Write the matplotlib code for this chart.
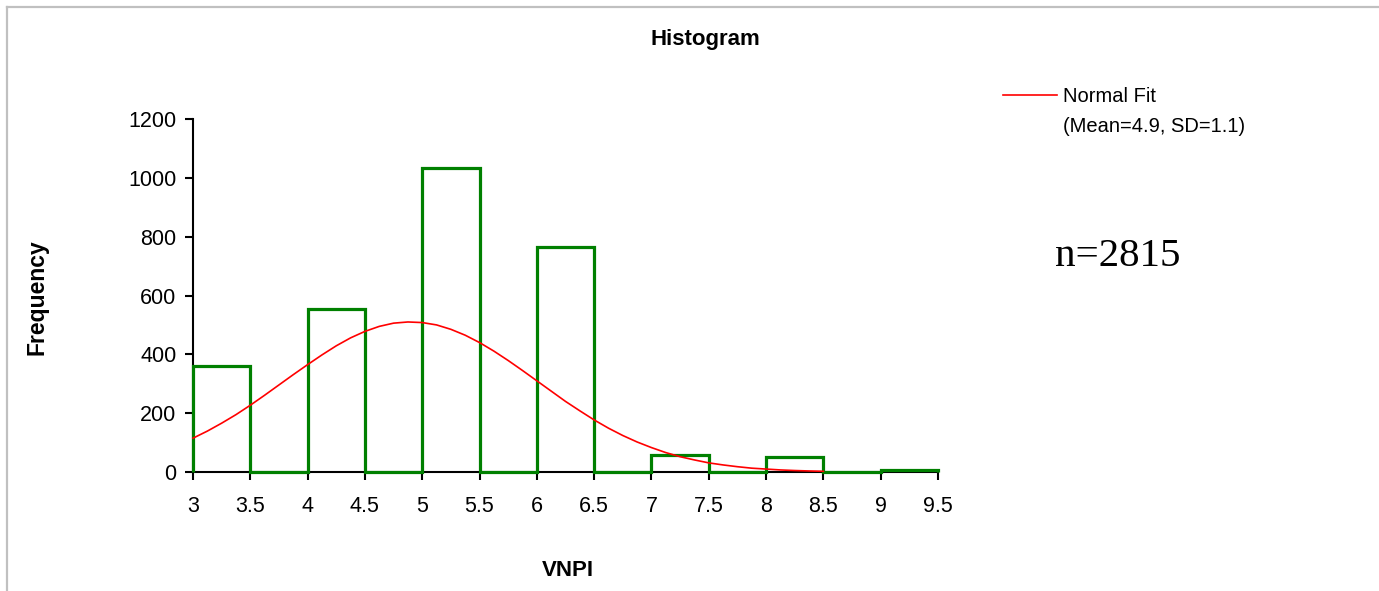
import matplotlib
matplotlib.use("Agg")
import matplotlib.pyplot as plt
from matplotlib.lines import Line2D
import numpy as np

plt.rcParams['font.family'] = ['Liberation Sans', 'DejaVu Sans']

# histogram bins (width 0.5) and counts
bin_edges = [3, 3.5, 4, 4.5, 5, 5.5, 6, 6.5, 7, 7.5, 8, 8.5, 9, 9.5]
counts = [362, 0, 553, 0, 1035, 0, 765, 0, 58, 0, 50, 0, 8]

# normal fit curve (Mean=4.9, SD=1.1)
fit_x = [3, 3.125, 3.25, 3.375, 3.5, 3.625, 3.75, 3.875, 4, 4.125, 4.25, 4.375,
         4.5, 4.625, 4.75, 4.875, 5, 5.125, 5.25, 5.375, 5.5, 5.625, 5.75, 5.875,
         6, 6.125, 6.25, 6.375, 6.5, 6.625, 6.75, 6.875, 7, 7.125, 7.25, 7.375,
         7.5, 7.625, 7.75, 7.875, 8, 8.125, 8.25, 8.375, 8.5]
fit_y = [115, 139, 166, 195, 227, 261, 296, 331, 365, 398, 429, 456,
         478, 495, 506, 510, 508, 500, 485, 465, 440, 411, 379, 345,
         310, 275, 240, 208, 177, 149, 124, 102, 83, 66, 52, 41,
         31, 24, 18, 13, 10, 7, 5, 3.5, 2.4]

x_ticks = [3, 3.5, 4, 4.5, 5, 5.5, 6, 6.5, 7, 7.5, 8, 8.5, 9, 9.5]
x_tick_labels = ['3', '3.5', '4', '4.5', '5', '5.5', '6', '6.5', '7', '7.5', '8', '8.5', '9', '9.5']
y_ticks = [0, 200, 400, 600, 800, 1000, 1200]

W, H = 1379, 591
fig = plt.figure(figsize=(W / 100, H / 100), dpi=100)
ax = fig.add_axes([193 / W, 1 - 472 / H, (938 - 193) / W, (472 - 119) / H])

ax.stairs(counts, bin_edges, color='#008000', linewidth=2.3, baseline=0, clip_on=False, zorder=3)
ax.plot(fit_x, fit_y, color='red', linewidth=1.2, zorder=4, clip_on=False)

ax.set_xlim(3, 9.5)
ax.set_ylim(0, 1200)
ax.set_xticks(x_ticks)
ax.set_xticklabels(x_tick_labels)
ax.set_yticks(y_ticks)

for s in ['top', 'right']:
    ax.spines[s].set_visible(False)
for s in ['left', 'bottom']:
    ax.spines[s].set_linewidth(1.5)
ax.tick_params(axis='both', direction='out', length=6, width=1.5, labelsize=15.5)
ax.tick_params(axis='x', pad=11)
ax.tick_params(axis='y', pad=6)

fig.text(705 / W, 1 - 40 / H, 'Histogram', ha='center', va='center', fontsize=16, fontweight='bold')
fig.text(37 / W, 1 - 297 / H, 'Frequency', ha='center', va='center', rotation=90,
         fontsize=16.5, fontweight='bold')
fig.text(568 / W, 1 - 571 / H, 'VNPI', ha='center', va='center', fontsize=16, fontweight='bold')

# legend
fig.add_artist(Line2D([1003 / W, 1057 / W], [1 - 95 / H, 1 - 95 / H], color='red', linewidth=1.2))
fig.text(1063 / W, 1 - 96 / H, 'Normal Fit', ha='left', va='center', fontsize=14.5)
fig.text(1063 / W, 1 - 126 / H, '(Mean=4.9, SD=1.1)', ha='left', va='center', fontsize=14.5)

fig.text(1055 / W, 1 - 256 / H, 'n=2815', ha='left', va='center', fontsize=29.5,
         family=['Liberation Serif', 'DejaVu Serif'])

# light grey frame around the chart area
fig.add_artist(Line2D([7 / W, 1.0], [1 - 7 / H, 1 - 7 / H], color='#c0c0c0', linewidth=1.6))
fig.add_artist(Line2D([7 / W, 7 / W], [0, 1 - 7 / H], color='#c0c0c0', linewidth=1.6))

fig.savefig('out.png', dpi=100)
